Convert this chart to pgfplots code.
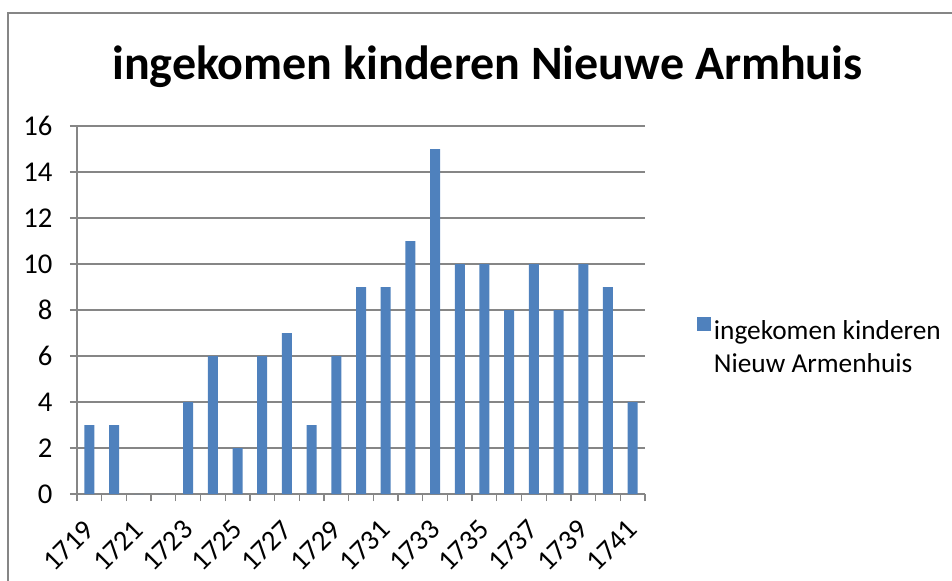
\documentclass[border=0pt]{standalone}
\usepackage{fontspec}
\setmainfont{Carlito}
\usepackage{pgfplots}
\pgfplotsset{compat=1.18}
\definecolor{barblue}{HTML}{4F81BD}
\definecolor{gridgray}{HTML}{868686}
\begin{document}
\begin{tikzpicture}
\useasboundingbox (0,0) rectangle (714pt,-435.75pt);
\draw[gridgray, line width=1pt] (6pt,-450pt) -- (6pt,-9.75pt) -- (730pt,-9.75pt);
\node[font=\fontsize{36}{40}\selectfont\bfseries, anchor=base, inner sep=0pt] at (365.6pt,-60pt) {ingekomen kinderen Nieuwe Armhuis};
\begin{axis}[
  at={(57.75pt,-370.5pt)}, anchor=south west,
  scale only axis, width=426pt, height=276pt,
  ybar, bar width=7.5pt,
  xmin=-0.5, xmax=22.5, ymin=0, ymax=16,
  ytick={0,2,...,16},
  xtick={0,2,...,22},
  xticklabels={1719,1721,1723,1725,1727,1729,1731,1733,1735,1737,1739,1741},
  minor xtick={-0.5,0.5,...,22.5},
  axis x line*=bottom, axis y line*=left,
  axis line style={-, gridgray, line width=1pt},
  ymajorgrids, grid style={gridgray, line width=1pt},
  tick align=outside,
  major tick length=5.25pt, minor tick length=5.25pt,
  tick style={gridgray, line width=1pt},
  major x tick style={draw=none},
  /pgf/number format/assume math mode=true,
  ticklabel style={font=\fontsize{21.5}{26}\selectfont, text=black},
  xticklabel style={anchor=east, inner sep=0pt, xshift=0pt, yshift=-18pt, rotate=45},
  yticklabel style={inner sep=1pt, xshift=-12pt},
  legend style={at={(1.0915,0.482)}, anchor=north west, draw=none, inner sep=0pt,
     font=\fontsize{20.5}{25}\selectfont, legend cell align=left},
]
\addplot[fill=barblue, draw=none,
  legend image code/.code={\fill[barblue] (0pt,0pt) rectangle (10.5pt,10.5pt);}]
  coordinates {
  (0,3) (1,3) (2,0) (3,0) (4,4) (5,6) (6,2) (7,6) (8,7) (9,3) (10,6) (11,9)
  (12,9) (13,11) (14,15) (15,10) (16,10) (17,8) (18,10) (19,8) (20,10) (21,9) (22,4)
  };
\addlegendentry{\vtop{\hbox{ingekomen kinderen}\hbox{Nieuw Armenhuis}}}
\end{axis}
\end{tikzpicture}
\end{document}
